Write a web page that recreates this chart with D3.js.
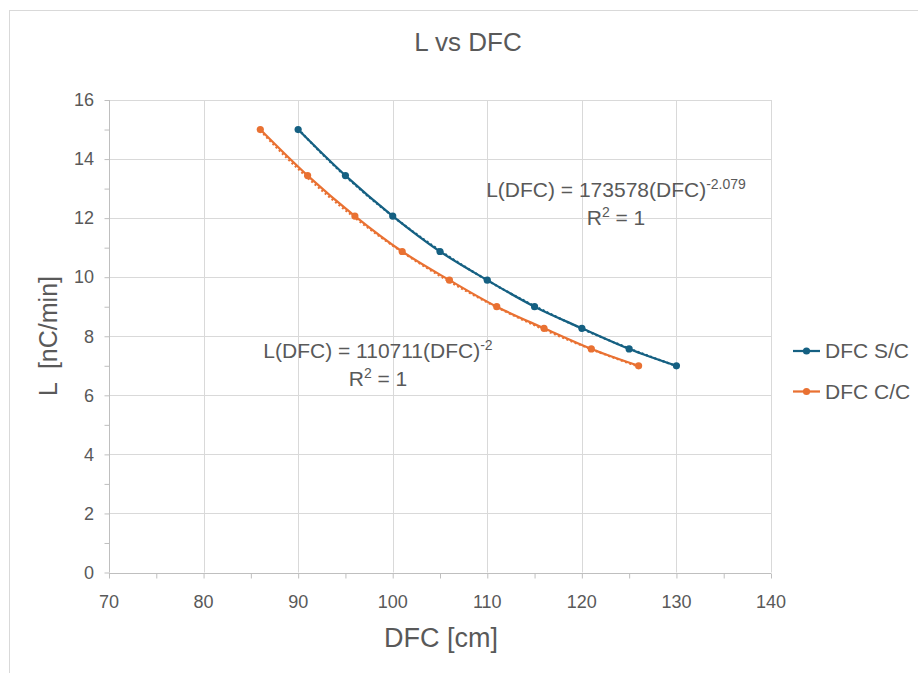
<!DOCTYPE html>
<html>
<head>
<meta charset="utf-8">
<script src="https://cdn.jsdelivr.net/npm/d3@7"></script>
<style>
  html, body { margin: 0; padding: 0; background: #fff; }
  svg text { font-family: "Liberation Sans", Arial, sans-serif; fill: #595959; white-space: pre; }
</style>
</head>
<body>
<svg id="chart" width="918" height="673"></svg>
<script>
// Measured data: L [nC/min] versus DFC [cm] for two configurations
const dfcSC = [90, 95, 100, 105, 110, 115, 120, 125, 130];
const lSC   = [15.0, 13.44, 12.07, 10.87, 9.9, 9.0, 8.27, 7.57, 7.0];
const dfcCC = [86, 91, 96, 101, 106, 111, 116, 121, 126];
const lCC   = [15.0, 13.44, 12.07, 10.87, 9.9, 9.0, 8.27, 7.57, 7.0];

const seriesNames = ["DFC S/C", "DFC C/C"];
const seriesColors = ["#156082", "#E97132"];

// Power-law trendline coefficients, L = a * DFC^b
const fitSC = { a: 173578, b: -2.079, r2: 1 };
const fitCC = { a: 110711, b: -2, r2: 1 };

const xTicks = [70, 80, 90, 100, 110, 120, 130, 140];
const yTicks = [0, 2, 4, 6, 8, 10, 12, 14, 16];

const svg = d3.select("#chart");

// outer chart frame
svg.append("rect")
  .attr("x", 9.5).attr("y", 10.5)
  .attr("width", 1000).attr("height", 1000)
  .attr("fill", "none").attr("stroke", "#d9d9d9").attr("stroke-width", 1);

const plot = { left: 109, right: 771, top: 100, bottom: 572.5 };

const x = d3.scaleLinear().domain([70, 140]).range([plot.left, plot.right]);
const y = d3.scaleLinear().domain([0, 16]).range([plot.bottom, plot.top]);

// gridlines
const grid = svg.append("g");
grid.selectAll(".gx").data(xTicks.slice(1)).join("line")
  .attr("x1", d => Math.round(x(d)) + 0.5).attr("x2", d => Math.round(x(d)) + 0.5)
  .attr("y1", plot.top).attr("y2", plot.bottom)
  .attr("stroke", "#d9d9d9").attr("stroke-width", 1);
grid.selectAll(".gy").data(yTicks.slice(1)).join("line")
  .attr("x1", plot.left).attr("x2", plot.right)
  .attr("y1", d => Math.round(y(d)) + 0.5).attr("y2", d => Math.round(y(d)) + 0.5)
  .attr("stroke", "#d9d9d9").attr("stroke-width", 1);

// y axis with major and minor ticks on the outside
const yAxis = svg.append("g").attr("transform", `translate(${plot.left + 0.5},0)`)
  .call(d3.axisLeft(y).tickValues(d3.range(0, 17, 1)).tickSize(5).tickFormat(""));
yAxis.select(".domain").attr("stroke", "#bfbfbf").attr("d", `M0,${plot.top}V${plot.bottom}`);
yAxis.selectAll(".tick line").attr("stroke", "#bfbfbf");
svg.append("g").selectAll("text").data(yTicks).join("text")
  .attr("x", plot.left - 15).attr("y", d => y(d))
  .attr("dy", "0.35em").attr("text-anchor", "end")
  .attr("font-size", 18).text(d => d);

// x axis with ticks every 5
const xAxis = svg.append("g").attr("transform", `translate(0,${Math.round(plot.bottom) + 0.5})`)
  .call(d3.axisBottom(x).tickValues(d3.range(70, 141, 5)).tickSize(5).tickFormat(""));
xAxis.select(".domain").attr("stroke", "#bfbfbf").attr("d", `M${plot.left},0H${plot.right}`);
xAxis.selectAll(".tick line").attr("stroke", "#bfbfbf");
svg.append("g").selectAll("text").data(xTicks).join("text")
  .attr("x", d => x(d)).attr("y", 608)
  .attr("text-anchor", "middle")
  .attr("font-size", 18).text(d => d);

// titles
svg.append("text").attr("x", 468).attr("y", 51).attr("text-anchor", "middle")
  .attr("font-size", 26).text("L vs DFC");
svg.append("text").attr("x", 441).attr("y", 647).attr("text-anchor", "middle")
  .attr("font-size", 27).text("DFC [cm]");
svg.append("text").attr("transform", "translate(57,336) rotate(-90)")
  .attr("text-anchor", "middle").attr("font-size", 25).text("L  [nC/min]");

const series = [
  { name: seriesNames[0], color: seriesColors[0], xs: dfcSC, ys: lSC, fit: fitSC },
  { name: seriesNames[1], color: seriesColors[1], xs: dfcCC, ys: lCC, fit: fitCC }
];

const smooth = d3.line().x(d => x(d[0])).y(d => y(d[1])).curve(d3.curveCatmullRom.alpha(0.5));
const plain = d3.line().x(d => x(d[0])).y(d => y(d[1]));

series.forEach(s => {
  const g = svg.append("g");
  // dotted power trendline across the measured range
  const x0 = d3.min(s.xs), x1 = d3.max(s.xs);
  const trend = d3.range(0, 101).map(i => {
    const xv = x0 + (x1 - x0) * i / 100;
    return [xv, s.fit.a * Math.pow(xv, s.fit.b)];
  });
  g.append("path").attr("d", plain(trend))
    .attr("fill", "none").attr("stroke", s.color).attr("stroke-width", 2.25)
    .attr("stroke-dasharray", "2,2.5");
  const pts = s.xs.map((xv, i) => [xv, s.ys[i]]);
  g.append("path").attr("d", smooth(pts))
    .attr("fill", "none").attr("stroke", s.color).attr("stroke-width", 2.25)
    .attr("stroke-linejoin", "round");
  g.selectAll("circle").data(pts).join("circle")
    .attr("cx", d => x(d[0])).attr("cy", d => y(d[1])).attr("r", 3.6)
    .attr("fill", s.color);
});

// trendline equation labels
function fitLabel(cx, baseY, fit) {
  const t = svg.append("text").attr("x", cx).attr("y", baseY)
    .attr("text-anchor", "middle").attr("font-size", 21);
  t.append("tspan").text(`L(DFC) = ${fit.a}(DFC)`);
  t.append("tspan").attr("dy", -8).attr("font-size", 14).text(String(fit.b));
  const r = svg.append("text").attr("x", cx).attr("y", baseY + 28)
    .attr("text-anchor", "middle").attr("font-size", 21);
  r.append("tspan").text("R");
  r.append("tspan").attr("dy", -8).attr("font-size", 14).text("2");
  r.append("tspan").attr("dy", 8).text(` = ${fit.r2}`);
}
fitLabel(616, 197, fitSC);
fitLabel(378, 358, fitCC);

// legend
const legend = svg.append("g");
series.forEach((s, i) => {
  const ly = 351 + i * 40.5;
  legend.append("line").attr("x1", 793).attr("x2", 820).attr("y1", ly).attr("y2", ly)
    .attr("stroke", s.color).attr("stroke-width", 2.25);
  legend.append("circle").attr("cx", 806.5).attr("cy", ly).attr("r", 3.6).attr("fill", s.color);
  legend.append("text").attr("x", 825).attr("y", ly).attr("dy", "0.35em")
    .attr("font-size", 21).text(s.name);
});
</script>
</body>
</html>
